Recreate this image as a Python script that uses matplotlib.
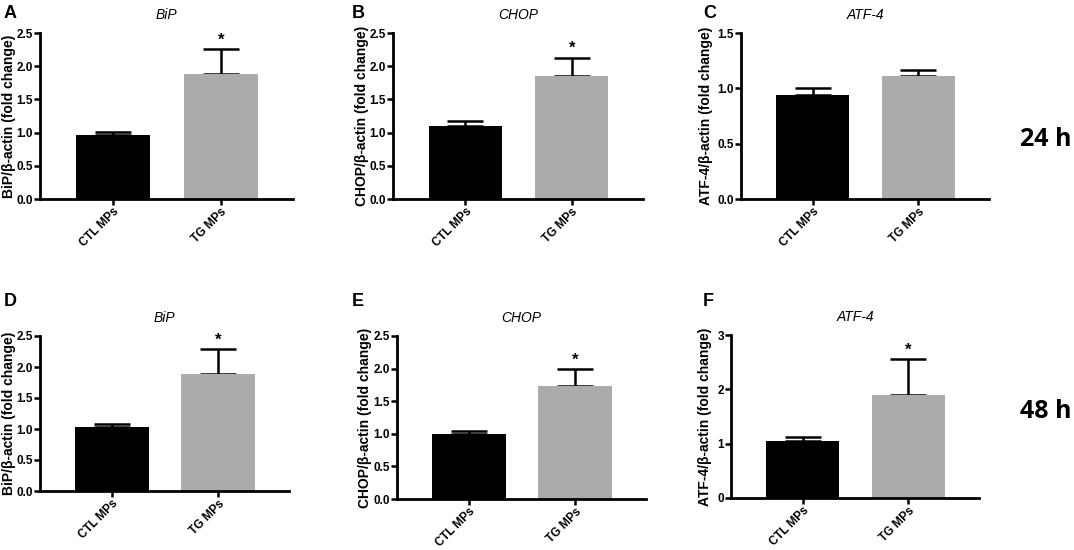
import matplotlib.pyplot as plt

groups = ['CTL MPs', 'TG MPs']
genes = ['BiP', 'CHOP', 'ATF-4']
ylabels = ['BiP/β-actin (fold change)', 'CHOP/β-actin (fold change)', 'ATF-4/β-actin (fold change)']

# 24 h
means_24 = [[0.96, 1.89], [1.10, 1.85], [0.94, 1.11]]
sem_24 = [[0.05, 0.37], [0.08, 0.28], [0.06, 0.06]]
star_24 = [True, True, False]
# 48 h
means_48 = [[1.03, 1.88], [1.00, 1.73], [1.05, 1.89]]
sem_48 = [[0.05, 0.41], [0.05, 0.26], [0.07, 0.67]]
star_48 = [True, True, True]

ylims = [2.5, 2.5, 1.5, 2.5, 2.5, 3]
yticks = [[0, 0.5, 1, 1.5, 2, 2.5], [0, 0.5, 1, 1.5, 2, 2.5], [0, 0.5, 1, 1.5],
          [0, 0.5, 1, 1.5, 2, 2.5], [0, 0.5, 1, 1.5, 2, 2.5], [0, 1, 2, 3]]
letters = ['A', 'B', 'C', 'D', 'E', 'F']

W, H = 1074, 550
# axes boxes in pixels: left, right, top, bottom
boxes = [(40, 293, 33, 199), (393, 643, 33, 199), (741, 989, 33, 199),
         (40, 289, 336, 491), (397, 646, 336, 499), (731, 979, 335, 498)]
ylab_x = [16, 369, 713, 16, 372, 712]   # right edge of the y label, px
letter_pos = [(4, 14), (352, 14), (703, 14), (4, 302), (352, 302), (703, 302)]

fig = plt.figure(figsize=(W / 100, H / 100), dpi=100)
fnt = 'Liberation Sans'

means = means_24 + means_48
sems = sem_24 + sem_48
stars = star_24 + star_48

for i in range(6):
    l, r, t, b = boxes[i]
    ax = fig.add_axes([l / W, 1 - b / H, (r - l) / W, (b - t) / H])
    g = i % 3
    ax.bar([0, 1], means[i], width=0.69, color=['black', '#ababab'], zorder=2)
    ax.errorbar([0, 1], means[i], yerr=[[0, 0], sems[i]], fmt='none',
                ecolor='black', elinewidth=1.8, capsize=13, capthick=1.8, zorder=1)
    if stars[i]:
        top = means[i][1] + sems[i][1]
        ax.text(1, top + ylims[i] * 0.01, '*', ha='center', va='bottom',
                fontsize=12, fontweight='bold', family=fnt)
    ax.set_xlim(-0.68, 1.67)
    ax.set_ylim(0, ylims[i])
    ax.set_yticks(yticks[i])
    if ylims[i] == 3:
        ax.set_yticklabels([str(v) for v in yticks[i]])
    else:
        ax.set_yticklabels(['%.1f' % v for v in yticks[i]])
    ax.set_xticks([0, 1])
    ax.set_xticklabels(groups, rotation=45, ha='right', rotation_mode='anchor')
    for lab in ax.get_yticklabels():
        lab.set_fontweight('bold')
        lab.set_family(fnt)
        lab.set_fontsize(8.5)
    for lab in ax.get_xticklabels():
        lab.set_fontweight('bold')
        lab.set_family(fnt)
        lab.set_fontsize(8.5)
    ax.tick_params(width=1.8, length=4, pad=1)
    for s in ['top', 'right']:
        ax.spines[s].set_visible(False)
    for s in ['left', 'bottom']:
        ax.spines[s].set_linewidth(2)
    ax.set_ylabel(ylabels[g], fontsize=10, fontweight='bold', family=fnt)
    ax.yaxis.set_label_coords((ylab_x[i] - l) / (r - l), 0.5)
    ax.set_title(genes[g], fontsize=10, style='italic', family=fnt, pad=10)
    fig.text(letter_pos[i][0] / W, 1 - letter_pos[i][1] / H, letters[i],
             fontsize=13, fontweight='bold', family=fnt, va='center', ha='left')

fig.text(1046 / W, 1 - 140 / H, '24 h', fontsize=18, fontweight='bold',
         family='Open Sans', ha='center', va='center')
fig.text(1046 / W, 1 - 411 / H, '48 h', fontsize=18, fontweight='bold',
         family='Open Sans', ha='center', va='center')

fig.savefig('out.png', dpi=100)
